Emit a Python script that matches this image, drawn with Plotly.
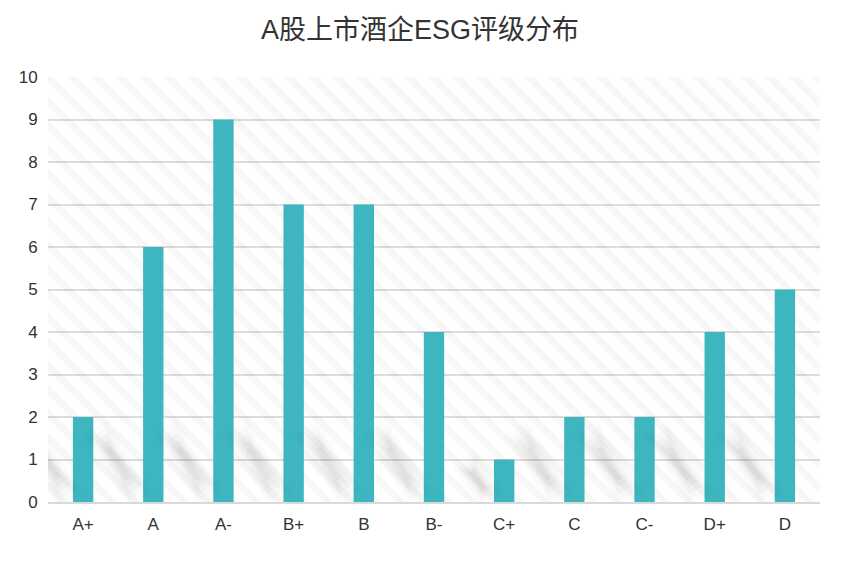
import plotly.graph_objects as go

# datos
grades = ['A+', 'A', 'A-', 'B+', 'B', 'B-', 'C+', 'C', 'C-', 'D+', 'D']
counts = [2, 6, 9, 7, 7, 4, 1, 2, 2, 4, 5]
y_ticks = list(range(0, 11))

BAR_COLOR = '#3db6bf'
BAR_W = 0.29
FONT = 'Liberation Sans, Noto Sans CJK SC, sans-serif'

idx = list(range(len(grades)))
n = len(grades)

fig = go.Figure()

# fondo rayado (diagonal)
fig.add_trace(go.Bar(
    x=[(n - 1) / 2], y=[max(y_ticks)], width=[n],
    marker=dict(
        color='rgba(0,0,0,0)',
        line=dict(width=0),
        pattern=dict(shape='\\', fgcolor='rgba(0,0,0,0.06)', bgcolor='rgba(0,0,0,0)',
                     size=17, solidity=0.4),
    ),
    hoverinfo='skip', showlegend=False,
))

# sombras difusas a la izquierda de cada barra (capas cada vez mas cortas y finas)
for i, v in zip(idx, counts):
    x0 = i - BAR_W / 2 - 0.03
    h = min(v, 1.75)
    xa, ya = x0, 0.05
    xb, yb = x0 - 0.62 * h / 1.75 - 0.04, h
    for k, (w, a) in enumerate([(28, 0.012), (22, 0.016), (16, 0.022), (11, 0.028), (6, 0.034)]):
        s = 0.07 * k
        fig.add_trace(go.Scatter(
            x=[xa + (xb - xa) * s, xb - (xb - xa) * s],
            y=[ya + (yb - ya) * s, yb - (yb - ya) * s],
            mode='lines',
            line=dict(color=f'rgba(0,0,0,{a})', width=w),
            hoverinfo='skip', showlegend=False,
        ))

# barras
fig.add_trace(go.Bar(
    x=idx, y=counts, width=BAR_W,
    marker=dict(color=BAR_COLOR, line=dict(width=0)),
    showlegend=False,
))

fig.update_layout(
    title=dict(
        text='A股上市酒企ESG评级分布',
        x=412 / 842, xanchor='center', y=1 - 22 / 566, yanchor='middle',
        font=dict(size=27, family=FONT, color='#333333'),
    ),
    width=842,
    height=566,
    margin=dict(l=40, r=30, t=69, b=72),
    barmode='overlay',
    paper_bgcolor='white',
    plot_bgcolor='white',
    font=dict(family=FONT, color='#333333'),
    xaxis=dict(
        range=[-0.5, n - 0.5],
        tickvals=idx, ticktext=grades,
        showgrid=False, zeroline=False,
        showline=True, linecolor='#d9d9d9', linewidth=2,
        ticks='outside', ticklen=6, tickcolor='rgba(0,0,0,0)',
        tickfont=dict(size=17, color='#333333'),
        fixedrange=True,
    ),
    yaxis=dict(
        range=[0, max(y_ticks)],
        tickvals=y_ticks,
        showgrid=True, gridcolor='#dddddd', gridwidth=1.5,
        zeroline=False, showline=False,
        ticks='outside', ticklen=6, tickcolor='rgba(0,0,0,0)',
        tickfont=dict(size=17, color='#333333'),
        fixedrange=True,
    ),
)

fig.write_html('out.html')
